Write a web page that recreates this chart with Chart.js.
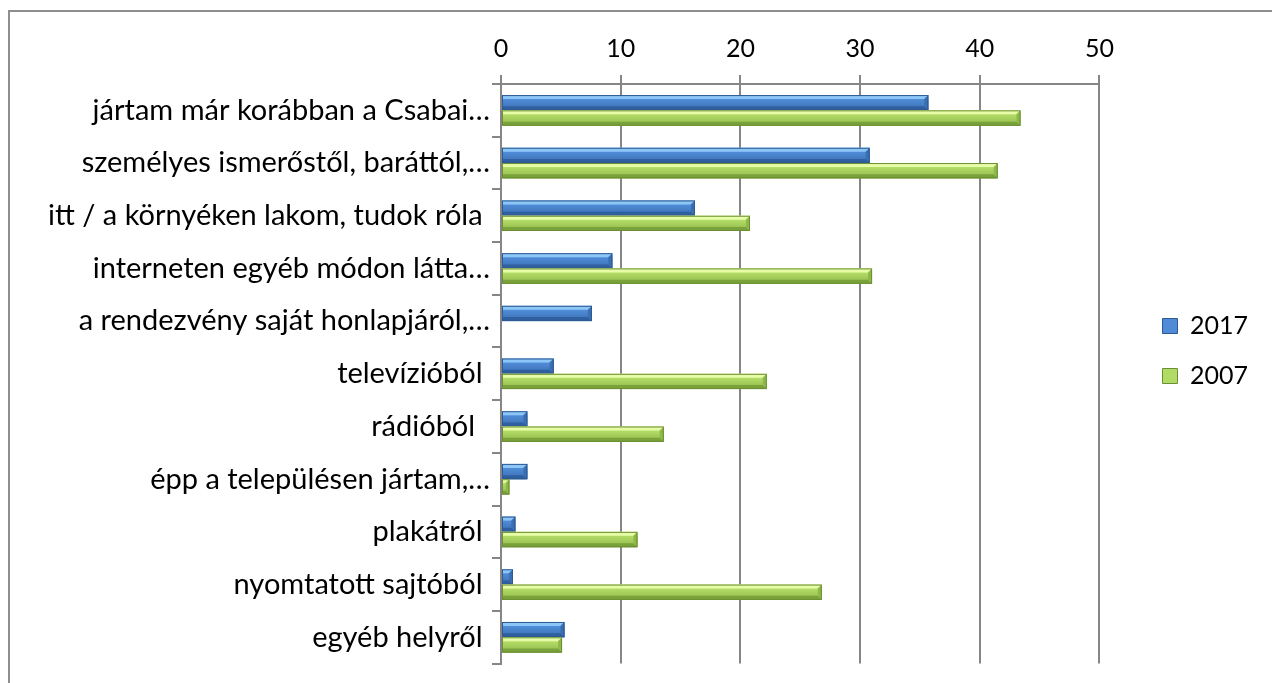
<!DOCTYPE html>
<html><head><meta charset="utf-8">
<script src="https://cdn.jsdelivr.net/npm/chart.js@4/dist/chart.umd.min.js"></script>
<style>
html,body{margin:0;padding:0;background:#fff;overflow:hidden;}
#frame{position:absolute;left:8px;top:10px;width:1300px;height:700px;border-left:2px solid #8e8e8e;border-top:2px solid #8e8e8e;box-sizing:border-box;}
#c{position:absolute;left:0;top:0;}
</style></head>
<body>
<div id="frame"></div>
<canvas id="c" width="1272" height="683"></canvas>
<script>
const categories = [
  "jártam már korábban a Csabai…",
  "személyes ismerőstől, baráttól,…",
  "itt / a környéken lakom, tudok róla ",
  "interneten egyéb módon látta…",
  "a rendezvény saját honlapjáról,…",
  "televízióból ",
  "rádióból  ",
  "épp a településen jártam,…",
  "plakátról ",
  "nyomtatott sajtóból ",
  "egyéb helyről "
];
const seriesNames = ["2017", "2007"];
const values2017 = [35.7, 30.8, 16.2, 9.3, 7.6, 4.4, 2.2, 2.2, 1.2, 1.0, 5.3];
const values2007 = [43.4, 41.5, 20.8, 31.0, 0, 22.2, 13.6, 0.7, 11.4, 26.8, 5.1];
const xTicks = [0, 10, 20, 30, 40, 50];

const FONT = "Lato, 'Open Sans', sans-serif";
const palettes = [
  {mid:'#4f8bd6', top:'#8cc6f7', bot:'#2f5f9e', side:'#3a6fb2', border:'#2d5a92'},
  {mid:'#b2db66', top:'#e6fca6', bot:'#7aa23a', side:'#8fb84b', border:'#6b8f33'}
];

const bevelPlugin = {
  id: 'bevel',
  afterLayout(chart) {
    const lg = chart.legend;
    if (lg) { lg.left += 38; lg.right += 38; lg.top += 7; lg.bottom += 7; }
  },
  beforeDatasetsDraw(chart) {
    const ctx = chart.ctx;
    ctx.save();
    ctx.shadowColor = 'rgba(0,0,0,0.35)';
    ctx.shadowBlur = 5;
    ctx.shadowOffsetX = 1;
    ctx.shadowOffsetY = 3;
  },
  afterDatasetsDraw(chart) {
    const ctx = chart.ctx;
    ctx.restore();
    chart.data.datasets.forEach((ds, di) => {
      const p = palettes[di];
      chart.getDatasetMeta(di).data.forEach(el => {
        const l = Math.min(el.base, el.x), r = Math.max(el.base, el.x);
        const w = r - l;
        if (w < 0.5) return;
        const h = el.height, t = el.y - h / 2, b = el.y + h / 2;
        const bv = Math.min(4, w / 2, h / 2);
        const g = ctx.createLinearGradient(0, t, 0, b);
        g.addColorStop(0, p.top); g.addColorStop(0.3, p.mid); g.addColorStop(1, p.side);
        ctx.fillStyle = g;
        ctx.fillRect(l, t, w, h);
        ctx.fillStyle = p.top;
        ctx.beginPath(); ctx.moveTo(l, t); ctx.lineTo(r, t); ctx.lineTo(r - bv, t + bv); ctx.lineTo(l, t + bv); ctx.closePath(); ctx.fill();
        ctx.fillStyle = p.bot;
        ctx.beginPath(); ctx.moveTo(l, b); ctx.lineTo(r, b); ctx.lineTo(r - bv, b - bv); ctx.lineTo(l, b - bv); ctx.closePath(); ctx.fill();
        ctx.fillStyle = p.side;
        ctx.beginPath(); ctx.moveTo(r, t); ctx.lineTo(r, b); ctx.lineTo(r - bv, b - bv); ctx.lineTo(r - bv, t + bv); ctx.closePath(); ctx.fill();
        ctx.strokeStyle = p.border; ctx.lineWidth = 1;
        ctx.strokeRect(l + 0.5, t + 0.5, w - 1, h - 1);
      });
    });
  }
};

new Chart(document.getElementById('c'), {
  type: 'bar',
  data: {
    labels: categories,
    datasets: [
      {label: seriesNames[0], data: values2017, backgroundColor: palettes[0].mid, borderColor: palettes[0].border, borderWidth: 1},
      {label: seriesNames[1], data: values2007, backgroundColor: palettes[1].mid, borderColor: palettes[1].border, borderWidth: 1}
    ]
  },
  options: {
    indexAxis: 'y',
    responsive: false,
    animation: false,
    layout: {padding: {top: 23, left: 12, right: 52, bottom: 18}},
    datasets: {bar: {categoryPercentage: 0.58, barPercentage: 1.0}},
    scales: {
      x: {
        position: 'top',
        min: 0, max: 50,
        afterBuildTicks(s) { s.ticks = xTicks.map(v => ({value: v})); },
        ticks: {color: '#000', font: {family: FONT, size: 25}, padding: 11},
        grid: {color: '#868686', lineWidth: 2, tickLength: 9, drawTicks: true},
        border: {display: true, color: '#868686', width: 2}
      },
      y: {
        afterFit(s) { s.width = 489; },
        ticks: {color: '#000', font: {family: FONT, size: 29}, padding: 2, autoSkip: false},
        grid: {drawOnChartArea: false, color: '#868686', lineWidth: 2, tickLength: 9, offset: true},
        border: {display: true, color: '#868686', width: 2}
      }
    },
    plugins: {
      tooltip: {enabled: false},
      legend: {
        position: 'right',
        labels: {color: '#000', font: {family: FONT, size: 25}, boxWidth: 15, boxHeight: 15, padding: 25}
      }
    }
  },
  plugins: [bevelPlugin]
});
</script>
</body></html>
